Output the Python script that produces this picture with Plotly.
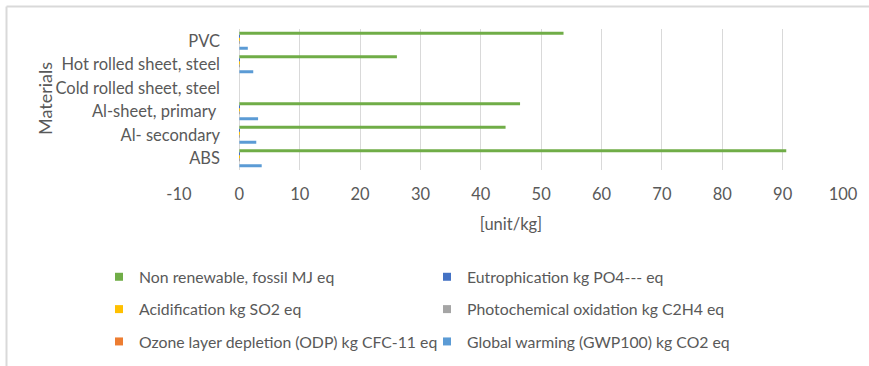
import plotly.graph_objects as go

# Materials, listed bottom to top as they appear on the category axis
materials = ["ABS", "Al- secondary", "Al-sheet, primary ", "Cold rolled sheet, steel",
             "Hot rolled sheet, steel", "PVC"]

# Impact indicators per kg of material
non_renewable = [90.6, 44.1, 46.5, 0, 26.1, 53.7]      # MJ eq
eutrophication = [0.004, 0.003, 0.005, 0, 0.002, 0.001]  # kg PO4--- eq
acidification = [0.02, 0.015, 0.03, 0, 0.01, 0.008]     # kg SO2 eq
photochemical = [0.001, 0.001, 0.002, 0, 0.001, 0.0005]  # kg C2H4 eq
ozone_depletion = [0.0000001, 0.0000002, 0.0000003, 0, 0.0000001, 0.0000001]  # kg CFC-11 eq
global_warming = [3.7, 2.8, 3.1, 0, 2.3, 1.4]           # kg CO2 eq

x_ticks = list(range(-10, 101, 10))

# (name, values, colour, legend, rank) – first entry sits at the bottom of each group
series = [
    ("Global warming (GWP100) kg CO2 eq", global_warming, "#5B9BD5", "legend2", 3),
    ("Ozone layer depletion (ODP) kg CFC-11 eq", ozone_depletion, "#ED7D31", "legend", 3),
    ("Photochemical oxidation kg C2H4 eq", photochemical, "#A5A5A5", "legend2", 2),
    ("Acidification kg SO2 eq", acidification, "#FFC000", "legend", 2),
    ("Eutrophication kg PO4--- eq", eutrophication, "#4472C4", "legend2", 1),
    ("Non renewable, fossil MJ eq", non_renewable, "#70AD47", "legend", 1),
]

TXT = "#595959"
FONT = "Lato"
FS = 16.5
W, H = 869, 366
L, R, T, B = 179, 26, 29, 196

fig = go.Figure()
for name, vals, col, lg, rank in series:
    fig.add_trace(go.Bar(y=materials, x=vals, orientation="h", name=name,
                         marker=dict(color=col, line=dict(width=0)),
                         showlegend=False))
# legend swatches
for name, vals, col, lg, rank in series:
    fig.add_trace(go.Scatter(x=[None], y=[None], mode="markers", name=name,
                             marker=dict(symbol="square", size=8, color=col),
                             legend=lg, legendrank=rank, legendgroup=name))


def px_x(p):
    return (p - L) / (W - L - R)


def px_y(p):
    return (H - B - p) / (H - T - B)


border = dict(color="#D9D9D9", width=2)
shapes = [
    dict(type="line", xref="paper", yref="paper", x0=px_x(6.5), x1=px_x(W + 5),
         y0=px_y(6.5), y1=px_y(6.5), line=border),
    dict(type="line", xref="paper", yref="paper", x0=px_x(6.5), x1=px_x(6.5),
         y0=px_y(6.5), y1=px_y(H + 5), line=border),
]

legend_common = dict(orientation="v", xref="container", yref="container",
                     xanchor="left", yanchor="top", bgcolor="rgba(0,0,0,0)",
                     font=dict(family=FONT, size=15.8, color=TXT),
                     tracegroupgap=8.8, itemwidth=30, traceorder="grouped")

fig.update_layout(
    width=W, height=H,
    margin=dict(l=L, r=R, t=T, b=B, autoexpand=False),
    paper_bgcolor="white", plot_bgcolor="white",
    barmode="group", bargap=0.234, bargroupgap=0,
    font=dict(family=FONT, size=FS, color=TXT),
    xaxis=dict(range=[-10, 100], tickvals=x_ticks, ticktext=[str(v) for v in x_ticks],
               showgrid=True, gridcolor="#D9D9D9", gridwidth=1, zeroline=False,
               showline=False, ticks="", fixedrange=True, ticklabelstandoff=12,
               tickfont=dict(family=FONT, size=FS, color=TXT),
               title=dict(text="[unit/kg]", standoff=15,
                          font=dict(family=FONT, size=FS, color=TXT))),
    yaxis=dict(categoryorder="array", categoryarray=materials,
               anchor="free", position=px_x(239), showgrid=False, zeroline=False,
               showline=False, ticks="", ticklabelstandoff=19,
               tickfont=dict(family=FONT, size=FS, color=TXT)),
    legend=dict(x=(139 - 40) / W, y=1 - 260 / H, **legend_common),
    legend2=dict(x=(467 - 40) / W, y=1 - 260 / H, **legend_common),
    shapes=shapes,
    annotations=[dict(text="Materials", xref="paper", yref="paper",
                      x=px_x(45), y=px_y(99), xanchor="center", yanchor="middle",
                      textangle=-90, showarrow=False,
                      font=dict(family=FONT, size=18, color=TXT))],
)

fig.write_html("out.html")
